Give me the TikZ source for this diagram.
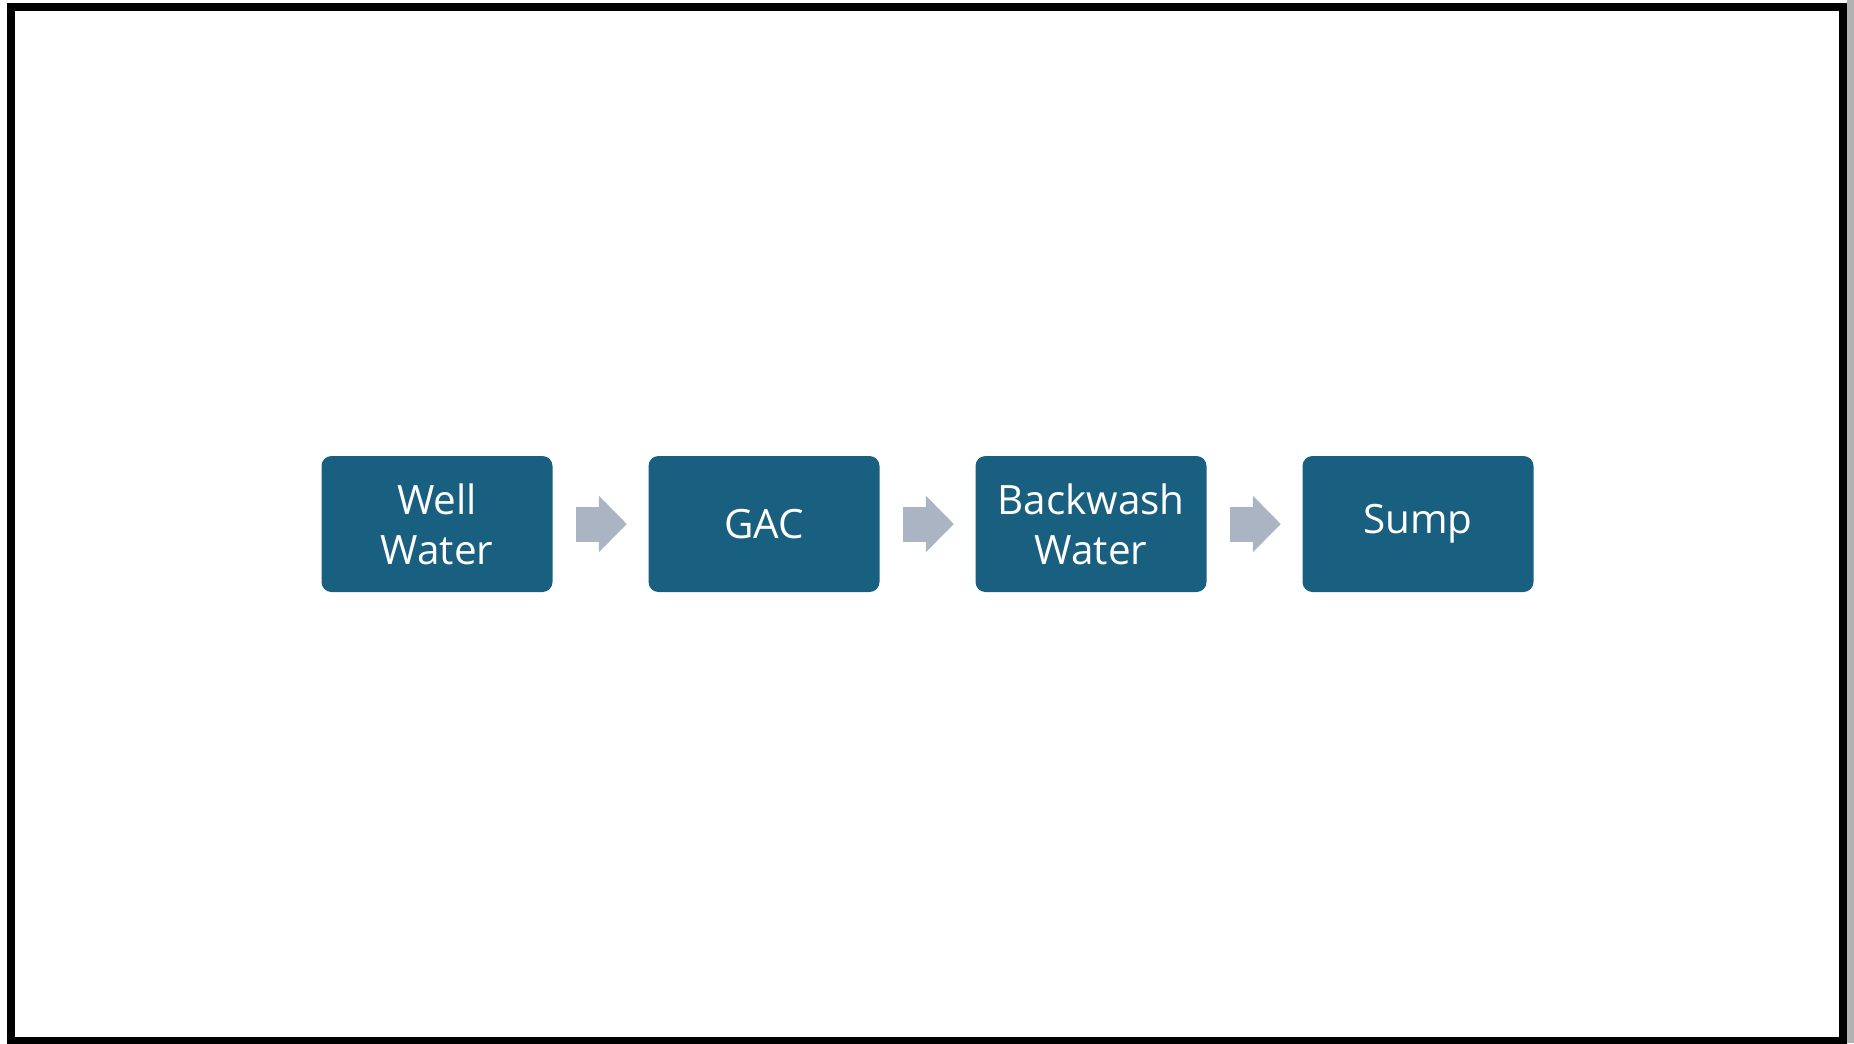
\documentclass[tikz,border=0pt]{standalone}
\usepackage{fontspec}
\setmainfont{Open Sans}
\usetikzlibrary{arrows.meta}
\definecolor{stepblue}{RGB}{24,95,128}
\definecolor{flowgray}{RGB}{170,180,194}
\begin{document}
\begin{tikzpicture}[x=0.1mm,y=-0.1mm]
    \def\dx{327}
    \def\yc{524}

    \useasboundingbox (0,0) rectangle (1854,1043);
    % frame
    \fill[gray!60] (1847,0) rectangle (1854,1043);
    \draw[line width=0.8mm] (11,7) rectangle (1843,1041);

    \tikzstyle{stepbox}=[fill=stepblue,text=white,rounded corners=1mm,minimum width=23.1mm,minimum height=13.6mm,text width=21mm,align=center,font=\fontsize{11.5}{14.2}\selectfont,inner sep=0pt]

    \node[stepbox]  (well) at (437+0*\dx,\yc) {Well\\Water};
    \node[stepbox]  (gac) at (437+1*\dx,\yc) {GAC};
    \node[stepbox]  (back) at (437+2*\dx,\yc) {Backwash\\Water};
    \node[stepbox]  (sump) at (437+3*\dx,\yc) {Sump};

    \tikzstyle{flow} = [draw=flowgray, line width=3.5mm, -{Triangle[length=2.8mm,width=5.5mm]}, shorten <=2.3mm, shorten >=2.1mm]

          \draw [flow] (well) -- (gac);
          \draw [flow] (gac) -- (back);
          \draw [flow] (back) -- (sump);
  \end{tikzpicture}
\end{document}
